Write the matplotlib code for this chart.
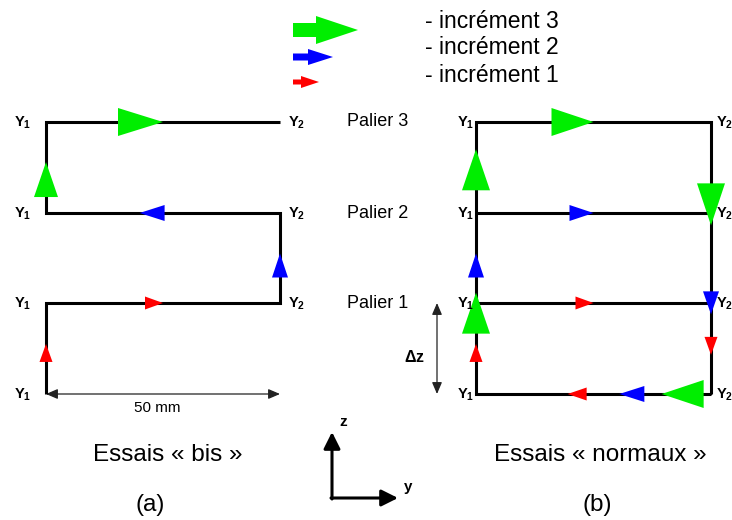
import matplotlib
matplotlib.use("Agg")
import matplotlib.pyplot as plt
from matplotlib.patches import Polygon, FancyArrowPatch

plt.rcParams['font.family'] = ['Liberation Sans', 'DejaVu Sans']
plt.rcParams['mathtext.fontset'] = 'custom'
plt.rcParams['mathtext.rm'] = 'Liberation Sans'
plt.rcParams['mathtext.bf'] = 'Liberation Sans:bold'

# ---- content ----
increment_labels = ["- incrément 3", "- incrément 2", "- incrément 1"]
increment_colors = {1: "#ff0000", 2: "#0000ff", 3: "#00ee00"}
palier_labels = ["Palier 1", "Palier 2", "Palier 3"]
panel_titles = ["Essais « bis »", "Essais « normaux »"]
panel_letters = ["(a)", "(b)"]
width_label = "50 mm"
dz_label = r"$\mathbf{\Delta z}$"

# paths as (side, level): side 0 = Y1, 1 = Y2 ; level 0..3
path_a = [(0, 0), (0, 1), (1, 1), (1, 2), (0, 2), (0, 3), (1, 3)]
path_b_outline = [(1, 0), (0, 0), (0, 3), (1, 3), (1, 0)]
path_b_rungs = [[(0, 1), (1, 1)], [(0, 2), (1, 2)]]

# arrows: (panel, segment start, segment end, tip fraction, increment, length)
arrows = [
    ("a", (0, 0), (0, 1), 0.55, 1, 18),
    ("a", (0, 1), (1, 1), 0.50, 1, 18),
    ("a", (1, 1), (1, 2), 0.55, 2, 24),
    ("a", (1, 2), (0, 2), 0.60, 2, 25),
    ("a", (0, 2), (0, 3), 0.56, 3, 35),
    ("a", (0, 3), (1, 3), 0.50, 3, 45),
    ("b", (0, 0), (0, 1), 0.55, 1, 18),
    ("b", (0, 1), (1, 1), 0.50, 1, 18),
    ("b", (1, 1), (1, 0), 0.57, 1, 18),
    ("b", (1, 0), (0, 0), 0.61, 1, 19),
    ("b", (0, 1), (0, 2), 0.55, 2, 24),
    ("b", (0, 2), (1, 2), 0.50, 2, 24),
    ("b", (1, 2), (1, 0), 0.56, 2, 23),
    ("b", (1, 0), (0, 0), 0.39, 2, 25),
    ("b", (0, 0), (0, 2), 0.56, 3, 41),
    ("b", (0, 2), (0, 3), 0.70, 3, 41),
    ("b", (0, 3), (1, 3), 0.50, 3, 42),
    ("b", (1, 3), (1, 0), 0.38, 3, 42),
    ("b", (1, 0), (0, 0), 0.21, 3, 42),
]
half_width = {1: 6.5, 2: 8, 3: 14}

# ---- layout (pixel space) ----
W, H = 732, 520
panel_x = {"a": (46, 280), "b": (476, 711)}
level_y = [394, 303, 213, 122]

fig = plt.figure(figsize=(W / 100, H / 100), dpi=100)
ax = fig.add_axes([0, 0, 1, 1])
ax.set_xlim(0, W)
ax.set_ylim(H, 0)
ax.axis("off")


def pt(panel, node):
    side, lev = node
    return panel_x[panel][side], level_y[lev]


def draw_path(panel, nodes):
    xs = [pt(panel, n)[0] for n in nodes]
    ys = [pt(panel, n)[1] for n in nodes]
    ax.plot(xs, ys, color="black", lw=2.2, solid_joinstyle="miter",
            solid_capstyle="butt", zorder=2)


draw_path("a", path_a)
draw_path("b", path_b_outline)
for r in path_b_rungs:
    draw_path("b", r)

for panel, n0, n1, f, inc, L in arrows:
    x0, y0 = pt(panel, n0)
    x1, y1 = pt(panel, n1)
    tx, ty = x0 + (x1 - x0) * f, y0 + (y1 - y0) * f
    dx, dy = x1 - x0, y1 - y0
    d = (dx ** 2 + dy ** 2) ** 0.5
    ux, uy = dx / d, dy / d
    hw = half_width[inc]
    if panel == "a" and inc == 3 and dx == 0:
        hw = 12
    bx, by = tx - ux * L, ty - uy * L
    px, py = -uy, ux
    tri = [(tx, ty), (bx + px * hw, by + py * hw), (bx - px * hw, by - py * hw)]
    ax.add_patch(Polygon(tri, closed=True, facecolor=increment_colors[inc],
                         edgecolor="none", zorder=3))


def ylabel(x, y, idx, ha):
    ax.text(x, y + 1, r"$\mathbf{Y}_{\mathbf{%d}}$" % idx, ha=ha, va="center",
            fontsize=10.5)


# Y labels
for lev, y in enumerate(level_y):
    ylabel(panel_x["a"][0] - 15, y, 1, "right")
    if lev > 0:
        ylabel(panel_x["a"][1] + 8, y, 2, "left")
    ylabel(panel_x["b"][0] - 2, y, 1, "right")
    ylabel(panel_x["b"][1] + 5, y, 2, "left")

for lab, y in zip(palier_labels, level_y[1:]):
    ax.text(347, y, lab, ha="left", va="center", fontsize=13)

# dimension arrows
ax.add_patch(FancyArrowPatch((panel_x["a"][0], level_y[0]), (panel_x["a"][1], level_y[0]),
                             arrowstyle="<|-|>,head_length=7,head_width=3",
                             color="#222222", lw=0.9, shrinkA=0, shrinkB=0, zorder=1))
ax.text(157, 408, width_label, ha="center", va="center", fontsize=11)
ax.add_patch(FancyArrowPatch((437, level_y[1]), (437, level_y[0]),
                             arrowstyle="<|-|>,head_length=7,head_width=3",
                             color="#222222", lw=0.9, shrinkA=0, shrinkB=0))
ax.text(404, 357, dz_label, ha="left", va="center", fontsize=11.5)

# axis triad
ax.add_patch(FancyArrowPatch((332, 499), (332, 432),
                             arrowstyle="-|>,head_length=10,head_width=5",
                             color="black", lw=2.2, shrinkA=0, shrinkB=0))
ax.add_patch(FancyArrowPatch((331, 498), (398, 498),
                             arrowstyle="-|>,head_length=10,head_width=5",
                             color="black", lw=2.2, shrinkA=0, shrinkB=0))
ax.text(343, 422, "z", ha="center", va="center", fontsize=11, fontweight="bold")
ax.text(408, 487, "y", ha="center", va="center", fontsize=11, fontweight="bold")

# titles
ax.text(168, 455, panel_titles[0], ha="center", va="center", fontsize=17.5)
ax.text(600, 455, panel_titles[1], ha="center", va="center", fontsize=17.5)
ax.text(150, 505, panel_letters[0], ha="center", va="center", fontsize=17.5)
ax.text(597, 505, panel_letters[1], ha="center", va="center", fontsize=17.5)

# legend arrows
legend_specs = [(3, 30, 316, 358, 7, 14), (2, 57, 308, 333, 3.5, 8), (1, 82, 301, 319, 2.5, 6)]
for inc, yc, xs, xe, sh, hh in legend_specs:
    x0 = 293
    poly = [(x0, yc - sh), (xs, yc - sh), (xs, yc - hh), (xe, yc), (xs, yc + hh),
            (xs, yc + sh), (x0, yc + sh)]
    ax.add_patch(Polygon(poly, closed=True, facecolor=increment_colors[inc],
                         edgecolor="none"))
for lab, y in zip(increment_labels, [22, 48, 75]):
    ax.text(425, y, lab, ha="left", va="center", fontsize=16.5)

fig.savefig("out.png", dpi=100)
